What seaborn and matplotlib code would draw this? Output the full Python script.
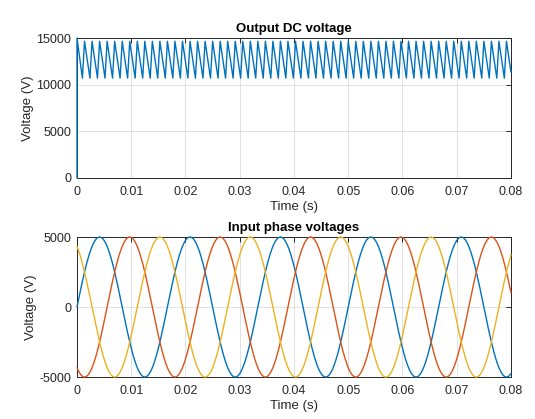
import numpy as np
import pandas as pd
import matplotlib
matplotlib.use("Agg")
import matplotlib.pyplot as plt
import seaborn as sns

# ---- data ----
x_ticks = [0, 0.01, 0.02, 0.03, 0.04, 0.05, 0.06, 0.07, 0.08]
x_tick_labels = ["0", "0.01", "0.02", "0.03", "0.04", "0.05", "0.06", "0.07", "0.08"]
dc_y_ticks = [0, 5000, 10000, 15000]
ac_y_ticks = [-5000, 0, 5000]

# output DC voltage: 12-pulse ripple
dc_start_value = 15000      # value right after the step at t=0
dc_peak_value = 14650       # ripple peaks
dc_trough_value = 10700     # ripple troughs
dc_ripple_hz = 720          # ripple frequency
dc_decay_fraction = 0.72    # share of each ripple period spent decaying

# input phase voltages
phase_names = ["Phase A", "Phase B", "Phase C"]
phase_shift_deg = [0, -120, 120]
phase_amplitude = 5000
line_hz = 60

t_end = 0.08

# ---- build series ----
period = 1.0 / dc_ripple_hz
n_periods = int(np.ceil(t_end * dc_ripple_hz)) + 1
dc_t = [0.0]
dc_v = [0.0]
for k in range(n_periods):
    t_peak = k * period
    if t_peak > t_end:
        break
    dc_t.append(t_peak)
    dc_v.append(dc_start_value if k == 0 else dc_peak_value)
    t_tr = t_peak + dc_decay_fraction * period
    if t_tr > t_end:
        frac = (t_end - t_peak) / (dc_decay_fraction * period)
        dc_t.append(t_end)
        dc_v.append(dc_peak_value + frac * (dc_trough_value - dc_peak_value))
        break
    dc_t.append(t_tr)
    dc_v.append(dc_trough_value)
dc_df = pd.DataFrame({"t": dc_t, "v": dc_v})

t = np.linspace(0, t_end, 2000)
rows = []
for name, sh in zip(phase_names, phase_shift_deg):
    v = phase_amplitude * np.sin(2 * np.pi * line_hz * t + np.deg2rad(sh))
    rows.append(pd.DataFrame({"t": t, "v": v, "phase": name}))
ac_df = pd.concat(rows, ignore_index=True)

# ---- style ----
sns.set_style("white")
plt.rcParams["font.family"] = ["Liberation Sans", "DejaVu Sans"]
text_color = "#262626"
palette = ["#0072BD", "#D95319", "#EDB120"]

fig = plt.figure(figsize=(5.35, 4.19), dpi=100)
ax1 = fig.add_axes([0.1439, 0.5752, 0.8112, 0.3341])
ax2 = fig.add_axes([0.1439, 0.1002, 0.8112, 0.3341])

sns.lineplot(data=dc_df, x="t", y="v", ax=ax1, color=palette[0], linewidth=1.0,
             sort=False, estimator=None)
sns.lineplot(data=ac_df, x="t", y="v", hue="phase", palette=palette, ax=ax2,
             linewidth=1.0, legend=False, estimator=None, sort=False)

for ax in (ax1, ax2):
    for ln in ax.lines:
        ln.set_zorder(3)
        ln.set_clip_on(False)

def style(ax, yticks, ylim, title):
    ax.set_xlim(0, t_end)
    ax.set_ylim(*ylim)
    ax.set_xticks(x_ticks)
    ax.set_xticklabels(x_tick_labels)
    ax.set_yticks(yticks)
    ax.set_yticklabels([str(y) for y in yticks])
    ax.grid(True, color="#dcdcdc", linewidth=0.6)
    ax.set_axisbelow(True)
    for s in ax.spines.values():
        s.set_visible(True)
        s.set_color(text_color)
        s.set_linewidth(0.7)
        s.set_zorder(2.5)
    ax.tick_params(direction="in", length=3.5, width=0.7, top=True, right=True,
                   labelsize=9, colors=text_color)
    ax.tick_params(axis="x", pad=6)
    ax.tick_params(axis="y", pad=4)
    ax.set_xlabel("Time (s)", fontsize=9.5, color=text_color, labelpad=2)
    ax.set_ylabel("Voltage (V)", fontsize=9.5, color=text_color, labelpad=2)
    ax.set_title(title, fontsize=9.5, fontweight="bold", color="black", pad=4)

style(ax1, dc_y_ticks, (0, 15000), "Output DC voltage")
style(ax2, ac_y_ticks, (-5000, 5000), "Input phase voltages")

fig.savefig("out.png", dpi=100)
